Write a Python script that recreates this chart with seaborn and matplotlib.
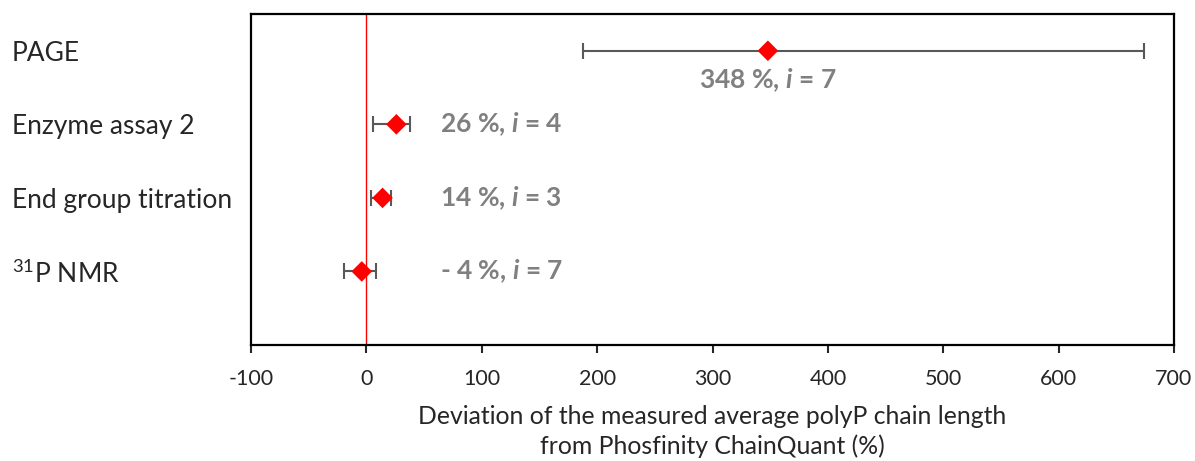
import numpy as np
import pandas as pd
import matplotlib
matplotlib.use("Agg")
import matplotlib.pyplot as plt
import seaborn as sns

# values
methods = ["PAGE", "Enzyme assay 2", "End group titration", r"$\mathregular{^{31}}$P NMR"]
row_pos = [4, 3, 2, 1]
deviation = [348, 26, 14, -4]
err_low = [160, 20, 10, 15]
err_high = [326, 12, 7, 12]
notes = [r"348 %, $\mathit{i}$ = 7", r"26 %, $\mathit{i}$ = 4",
         r"14 %, $\mathit{i}$ = 3", r"- 4 %, $\mathit{i}$ = 7"]
xticks = [-100, 0, 100, 200, 300, 400, 500, 600, 700]

df = pd.DataFrame({"method": methods, "y": row_pos, "dev": deviation})

sns.set_theme(style="white")
plt.rcParams["font.family"] = ["Lato", "DejaVu Sans"]
plt.rcParams["mathtext.fontset"] = "custom"
plt.rcParams["mathtext.it"] = "Lato:italic:bold"

fig, ax = plt.subplots(figsize=(11.95, 4.61), dpi=100)
fig.subplots_adjust(left=251 / 1195, right=1174 / 1195, top=1 - 14 / 461, bottom=1 - 345 / 461)

ax.axvline(0, color="red", lw=1, zorder=1)
ax.errorbar(df["dev"], df["y"], xerr=[err_low, err_high], fmt="none",
            ecolor="#595959", elinewidth=1.5, capsize=6, capthick=1.5, zorder=2)
sns.scatterplot(data=df, x="dev", y="y", marker="D", color="red", s=110,
                edgecolor="none", ax=ax, zorder=3)

# labels next to the points
ax.text(deviation[0], 3.6, notes[0], ha="center", va="center",
        fontsize=19, color="#808080", fontweight="bold")
for yy, txt in zip(row_pos[1:], notes[1:]):
    ax.text(64, yy, txt, ha="left", va="center", fontsize=19,
            color="#808080", fontweight="bold")

ax.set_xlim(-100, 700)
ax.set_ylim(0, 4.5)
ax.set_xticks(xticks)
ax.set_xticklabels([str(t) for t in xticks], fontsize=15.5)
ax.set_yticks(row_pos)
ax.set_yticklabels(methods, fontsize=19, ha="left")
ax.tick_params(axis="y", length=0, pad=172)
ax.tick_params(axis="x", bottom=True, length=6, width=1.5, direction="out", pad=11)

for sp in ax.spines.values():
    sp.set_visible(True)
    sp.set_color("black")
    sp.set_linewidth(1.6)

ax.set_xlabel("Deviation of the measured average polyP chain length\nfrom Phosfinity ChainQuant (%)",
              fontsize=17.8, linespacing=1.3, labelpad=12)
ax.set_ylabel("")

fig.savefig("out.png", dpi=100)
